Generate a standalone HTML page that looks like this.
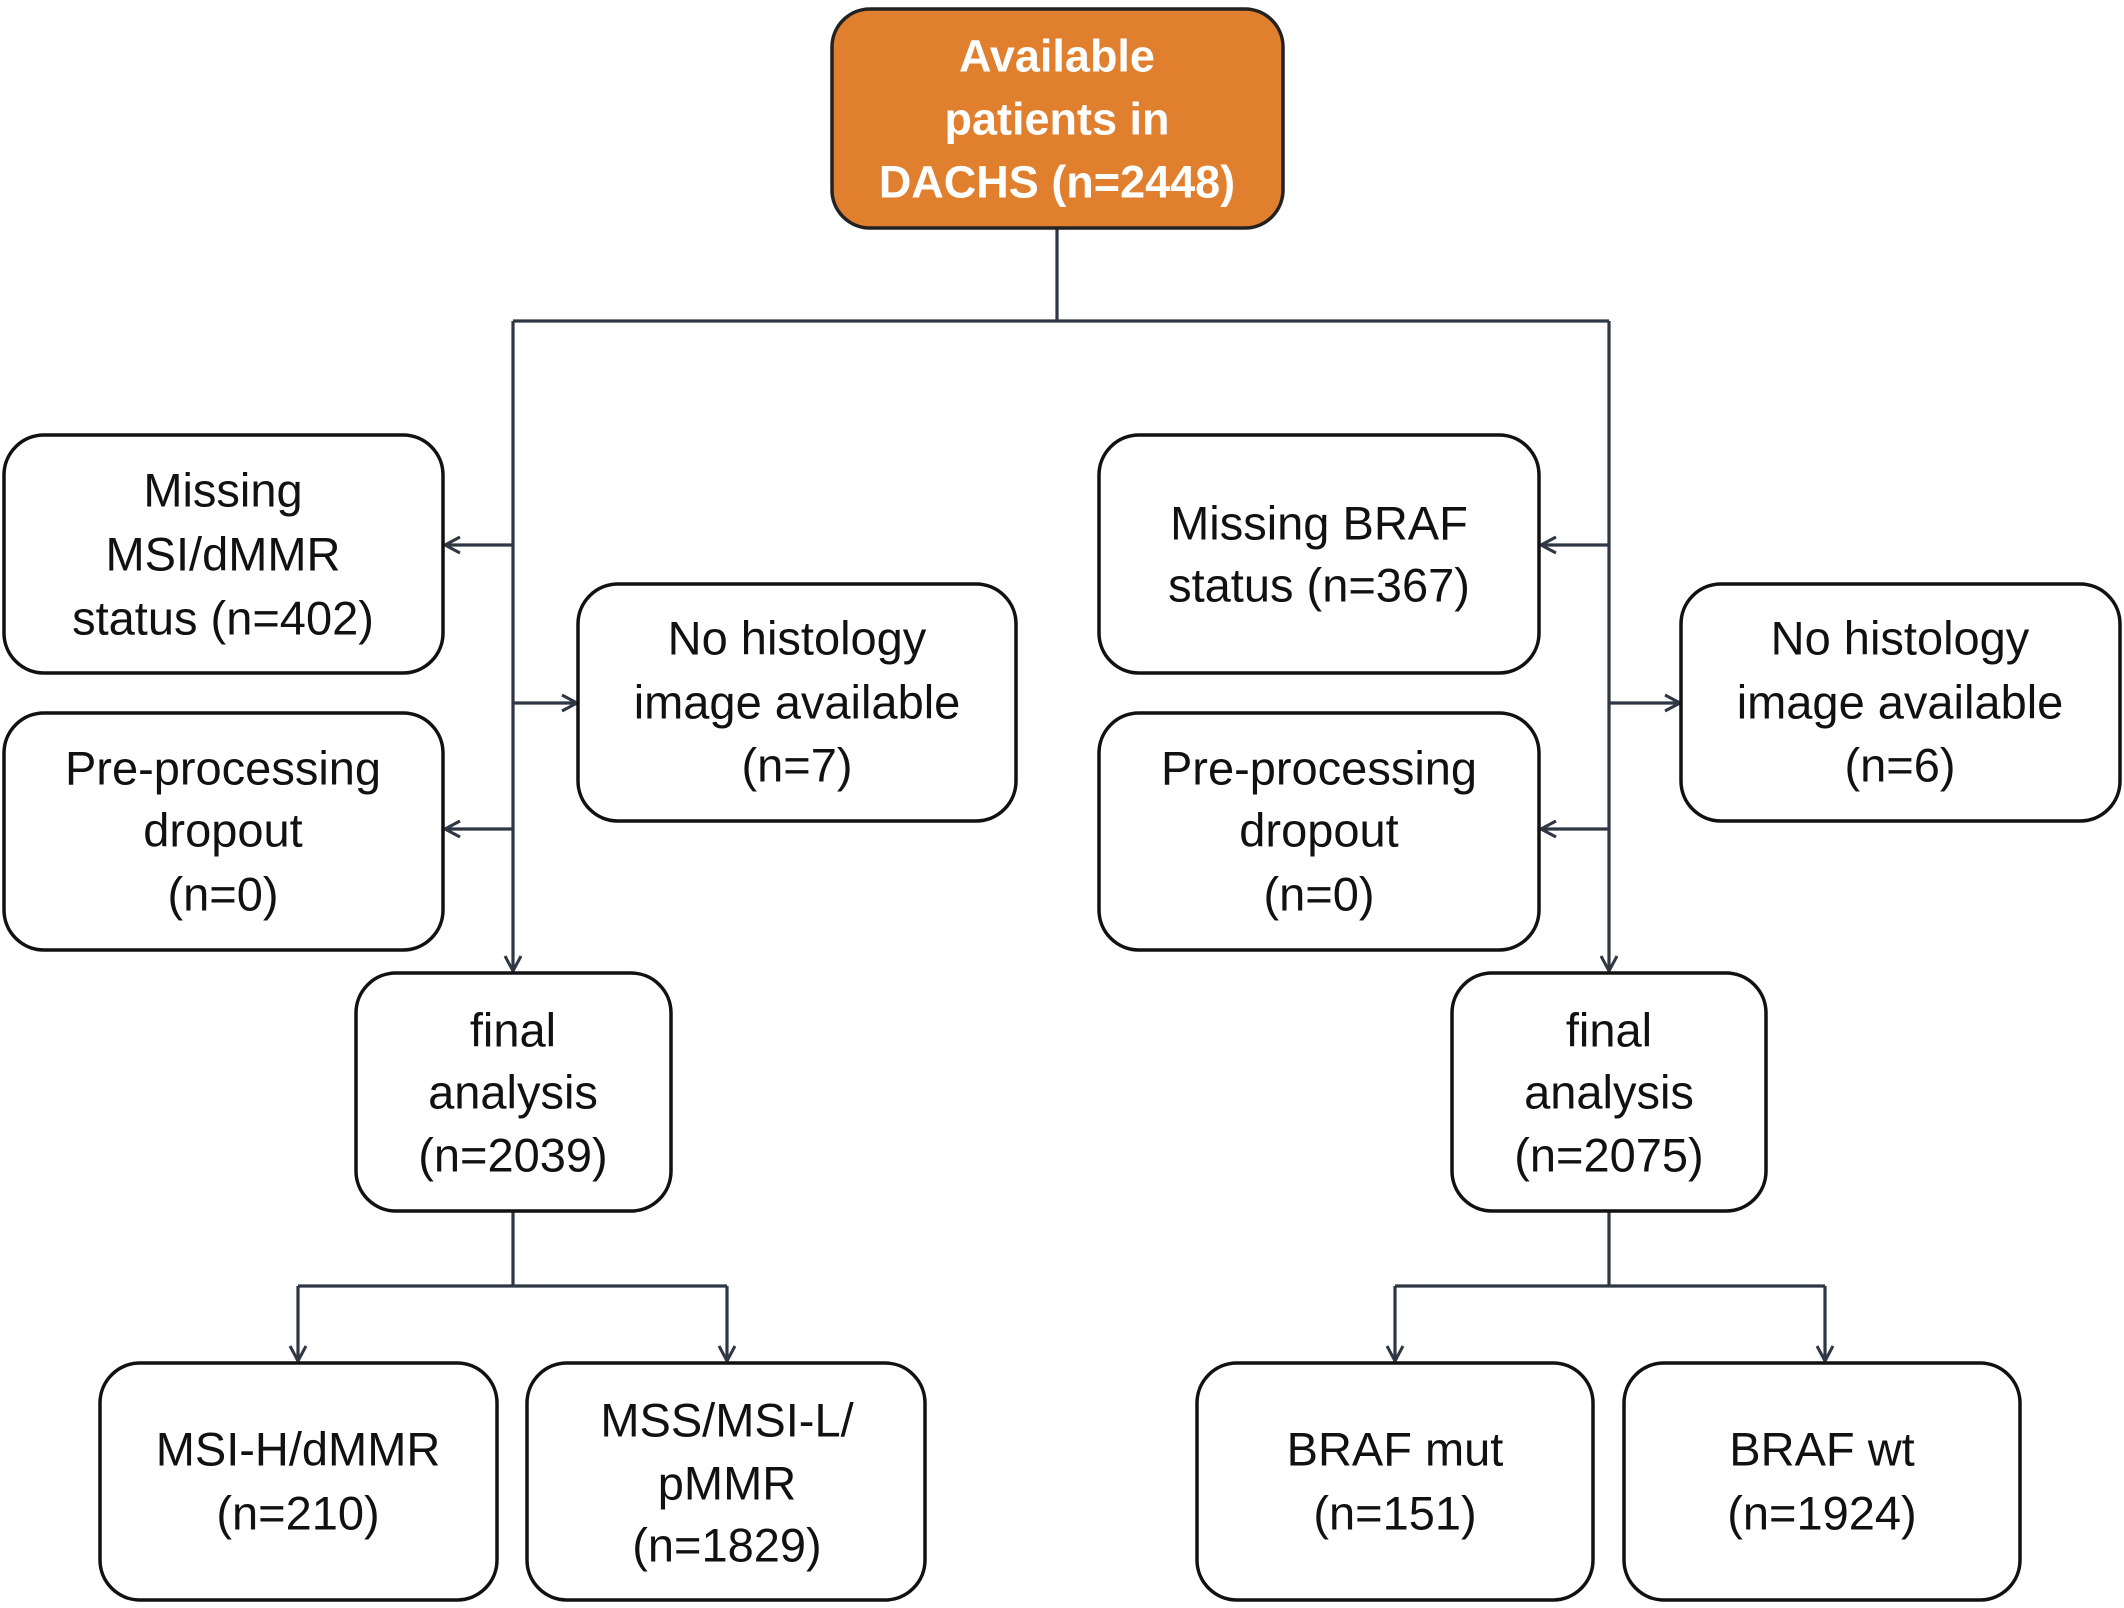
<!DOCTYPE html>
<html><head><meta charset="utf-8"><style>
html,body{margin:0;padding:0;background:#fff;}
svg{display:block;}
text{font-family:"Liberation Sans",sans-serif;font-size:47px;fill:#111;text-anchor:middle;dominant-baseline:central;}
.b{fill:#fff;stroke:#111;stroke-width:3.5;}
.l{stroke:#2f3744;stroke-width:3.2;fill:none;}
</style></head><body>
<svg width="2124" height="1608" viewBox="0 0 2124 1608" xmlns="http://www.w3.org/2000/svg">
<defs><marker id="a" markerWidth="20" markerHeight="20" refX="17" refY="10" orient="auto" markerUnits="userSpaceOnUse"><path d="M2,2 L17,10 L2,18" fill="none" stroke="#2f3744" stroke-width="3"/></marker></defs>
<path class="l" d="M1057 228 V321 M513 321 H1609"/>
<path class="l" d="M513 321 V971" marker-end="url(#a)"/>
<path class="l" d="M1609 321 V971" marker-end="url(#a)"/>
<path class="l" d="M513 545 H445" marker-end="url(#a)"/>
<path class="l" d="M513 829 H445" marker-end="url(#a)"/>
<path class="l" d="M513 703 H577" marker-end="url(#a)"/>
<path class="l" d="M1609 545 H1541" marker-end="url(#a)"/>
<path class="l" d="M1609 829 H1541" marker-end="url(#a)"/>
<path class="l" d="M1609 703 H1680" marker-end="url(#a)"/>
<path class="l" d="M513 1211 V1286 M298 1286 H727 M1609 1211 V1286 M1395 1286 H1825"/>
<path class="l" d="M298 1286 V1361" marker-end="url(#a)"/>
<path class="l" d="M727 1286 V1361" marker-end="url(#a)"/>
<path class="l" d="M1395 1286 V1361" marker-end="url(#a)"/>
<path class="l" d="M1825 1286 V1361" marker-end="url(#a)"/>
<rect x="832" y="9" width="451" height="219" rx="38" fill="#e07f2e" stroke="#222" stroke-width="3.5"/>
<text x="1057" y="56" style="fill:#fff;font-weight:bold;font-size:45px;">Available</text>
<text x="1057" y="119" style="fill:#fff;font-weight:bold;font-size:45px;">patients in</text>
<text x="1057" y="182" style="fill:#fff;font-weight:bold;font-size:45px;">DACHS (n=2448)</text>
<rect class="b" x="4" y="435" width="439" height="238" rx="40"/>
<text x="223" y="490">Missing</text><text x="223" y="554">MSI/dMMR</text><text x="223" y="618">status (n=402)</text>
<rect class="b" x="4" y="713" width="439" height="237" rx="40"/>
<text x="223" y="768">Pre-processing</text><text x="223" y="830">dropout</text><text x="223" y="894">(n=0)</text>
<rect class="b" x="578" y="584" width="438" height="237" rx="40"/>
<text x="797" y="638">No histology</text><text x="797" y="702">image available</text><text x="797" y="765">(n=7)</text>
<rect class="b" x="356" y="973" width="315" height="238" rx="40"/>
<text x="513" y="1030">final</text><text x="513" y="1092">analysis</text><text x="513" y="1155">(n=2039)</text>
<rect class="b" x="100" y="1363" width="397" height="237" rx="40"/>
<text x="298" y="1449">MSI-H/dMMR</text><text x="298" y="1513">(n=210)</text>
<rect class="b" x="527" y="1363" width="398" height="237" rx="40"/>
<text x="727" y="1420">MSS/MSI-L/</text><text x="727" y="1483">pMMR</text><text x="727" y="1545">(n=1829)</text>
<rect class="b" x="1099" y="435" width="440" height="238" rx="40"/>
<text x="1319" y="523">Missing BRAF</text><text x="1319" y="585">status (n=367)</text>
<rect class="b" x="1099" y="713" width="440" height="237" rx="40"/>
<text x="1319" y="768">Pre-processing</text><text x="1319" y="830">dropout</text><text x="1319" y="894">(n=0)</text>
<rect class="b" x="1681" y="584" width="439" height="237" rx="40"/>
<text x="1900" y="638">No histology</text><text x="1900" y="702">image available</text><text x="1900" y="765">(n=6)</text>
<rect class="b" x="1452" y="973" width="314" height="238" rx="40"/>
<text x="1609" y="1030">final</text><text x="1609" y="1092">analysis</text><text x="1609" y="1155">(n=2075)</text>
<rect class="b" x="1197" y="1363" width="396" height="237" rx="40"/>
<text x="1395" y="1449">BRAF mut</text><text x="1395" y="1513">(n=151)</text>
<rect class="b" x="1624" y="1363" width="396" height="237" rx="40"/>
<text x="1822" y="1449">BRAF wt</text><text x="1822" y="1513">(n=1924)</text>
</svg>
</body></html>
